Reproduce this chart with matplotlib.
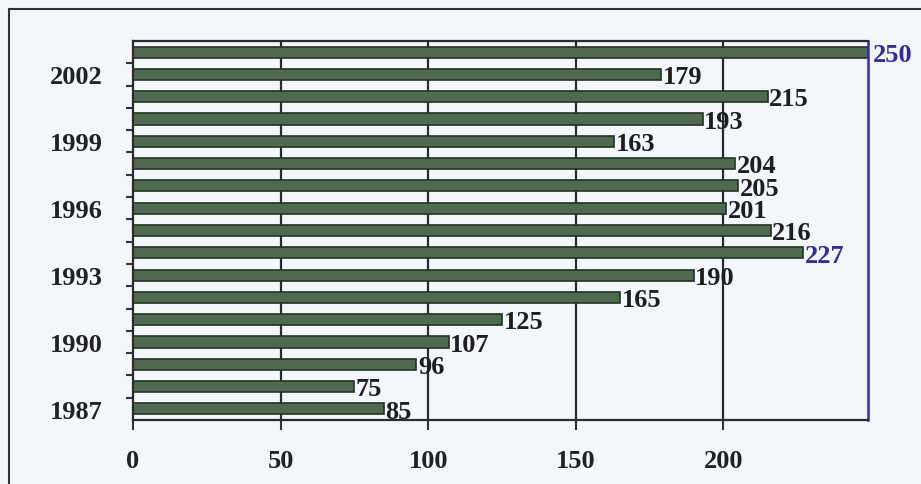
import matplotlib
matplotlib.use("Agg")
import matplotlib.pyplot as plt
import numpy as np

# data
years = list(range(1987, 2004))
values = [85, 75, 96, 107, 125, 165, 190, 227, 216, 201, 205, 204, 163, 193, 215, 179, 250]
label_years = [1987, 1990, 1993, 1996, 1999, 2002]
x_ticks = [0, 50, 100, 150, 200]
blue_labels = [227, 250]

plt.rcParams['font.family'] = ['Liberation Serif', 'DejaVu Serif']

fig = plt.figure(figsize=(9.21, 4.85), dpi=100)
fig.patch.set_facecolor('#f3f6fb')
ax = fig.add_axes([0.1444, 0.132, 0.7981, 0.7814])
ax.set_facecolor('#f3f6fb')

# outer frame lines (left and top)
fig.add_artist(plt.Line2D([0.0098, 0.0098], [0.0, 0.979], color='#333333', lw=1.5))
fig.add_artist(plt.Line2D([0.0098, 1.0], [0.979, 0.979], color='#333333', lw=1.5))

for x in x_ticks[1:]:
    ax.axvline(x, color='#2b2b2b', lw=1.6, zorder=1)

ax.barh(years, values, height=0.5, color='#4e6a50', edgecolor='#243324',
        linewidth=1.2, zorder=2)

for y, v in zip(years, values):
    c = '#3a2a9a' if v in blue_labels else '#1e1e1e'
    ax.text(v + 0.5, y - 0.1, str(v), ha='left', va='center', fontsize=19,
            fontweight='bold', color=c, zorder=3)

ax.set_xlim(0, 249)
ax.set_ylim(1986.5, 2003.5)
ax.set_xticks(x_ticks)
ax.set_xticklabels([str(t) for t in x_ticks], fontsize=19, fontweight='bold',
                   color='#222222')
ax.set_yticks(label_years)
ax.set_yticklabels([str(t) for t in label_years], fontsize=19,
                   fontweight='bold', color='#222222')
ax.set_yticks(np.arange(1987.5, 2003.5, 1.0), minor=True)
ax.tick_params(axis='y', which='major', length=0, pad=22)
ax.tick_params(axis='y', which='minor', length=5, width=1.5, color='#333333')
ax.tick_params(axis='x', which='major', length=7, width=1.5, color='#333333',
               pad=14)

for s in ['left', 'bottom', 'top']:
    ax.spines[s].set_color('#2b2b2b')
    ax.spines[s].set_linewidth(1.6)
ax.spines['right'].set_color('#3a2aa8')
ax.spines['right'].set_linewidth(1.8)

fig.savefig('out.png', dpi=100, facecolor=fig.get_facecolor())
